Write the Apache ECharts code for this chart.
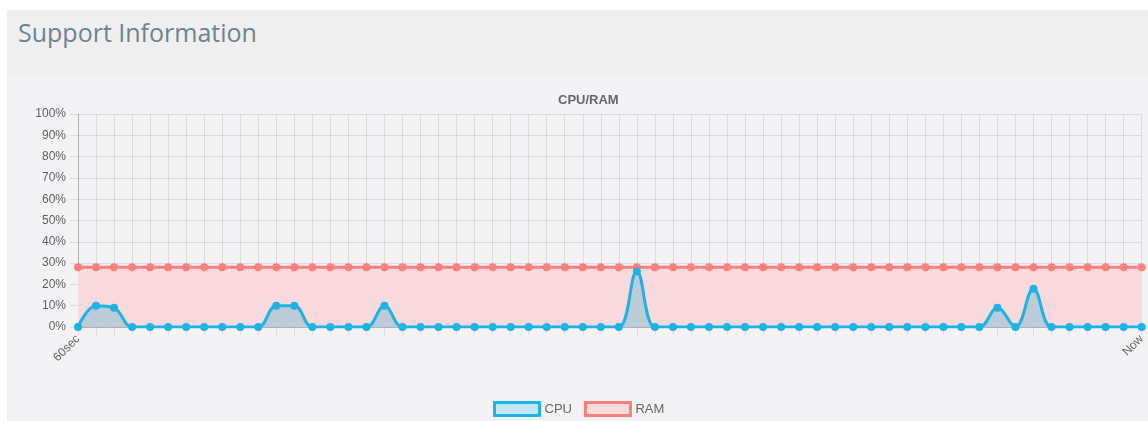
<!DOCTYPE html>
<html>
<head>
<meta charset="utf-8">
<title>Support Information</title>
<script src="https://cdn.jsdelivr.net/npm/echarts@6/dist/echarts.min.js"></script>
<style>
  html, body { margin: 0; padding: 0; background: #fff; }
  .header {
    position: absolute; left: 7px; top: 10px; width: 1141px; height: 65px;
    background: #efefef;
  }
  .header h2 {
    margin: 0; position: absolute; left: 11px; top: 5px;
    font-family: "Open Sans", sans-serif; font-weight: 400; font-size: 25px;
    color: #6d8294;
  }
  #chart {
    position: absolute; left: 7px; top: 75px; width: 1141px; height: 346px;
    background: #f3f3f5;
  }
</style>
</head>
<body>
<div class="header"><h2>Support Information</h2></div>
<div id="chart"></div>
<script>
// x labels: only first and last are shown
var xLabels = [
  "60sec", "", "", "", "", "", "", "", "", "",
  "", "", "", "", "", "", "", "", "", "",
  "", "", "", "", "", "", "", "", "", "",
  "", "", "", "", "", "", "", "", "", "",
  "", "", "", "", "", "", "", "", "", "",
  "", "", "", "", "", "", "", "", "", "Now"
];
var cpuData = [
  0, 10, 9, 0, 0, 0, 0, 0, 0, 0,
  0, 10, 10, 0, 0, 0, 0, 10, 0, 0,
  0, 0, 0, 0, 0, 0, 0, 0, 0, 0,
  0, 26, 0, 0, 0, 0, 0, 0, 0, 0,
  0, 0, 0, 0, 0, 0, 0, 0, 0, 0,
  0, 9, 0, 18, 0, 0, 0, 0, 0, 0
];
var ramData = [
  28, 28, 28, 28, 28, 28, 28, 28, 28, 28,
  28, 28, 28, 28, 28, 28, 28, 28, 28, 28,
  28, 28, 28, 28, 28, 28, 28, 28, 28, 28,
  28, 28, 28, 28, 28, 28, 28, 28, 28, 28,
  28, 28, 28, 28, 28, 28, 28, 28, 28, 28,
  28, 28, 28, 28, 28, 28, 28, 28, 28, 28
];

var gridColor = "rgba(0,0,0,0.09)";
var chart = echarts.init(document.getElementById("chart"));
chart.setOption({
  animation: false,
  textStyle: { fontFamily: "Liberation Sans, Arial, sans-serif" },
  title: {
    text: "CPU/RAM",
    left: 546,
    top: 14,
    textStyle: { fontSize: 13, fontWeight: "bold", color: "#666" }
  },
  legend: {
    left: 481,
    top: 321,
    itemWidth: 45,
    itemHeight: 13,
    itemGap: 12,
    icon: "rect",
    textStyle: { fontSize: 13, color: "#666" },
    data: [
      { name: "CPU", itemStyle: { color: "#c3e6f3", borderColor: "#1cb3e6", borderWidth: 3 } },
      { name: "RAM", itemStyle: { color: "#fbdcdc", borderColor: "#fb7f7b", borderWidth: 3 } }
    ]
  },
  grid: { left: 71, right: 2, top: 39, bottom: 94 },
  xAxis: {
    type: "category",
    data: xLabels,
    boundaryGap: false,
    axisLine: { lineStyle: { color: "rgba(0,0,0,0.2)" } },
    axisTick: { show: true, interval: 0, length: 8, lineStyle: { color: gridColor } },
    splitLine: { show: true, interval: 0, lineStyle: { color: gridColor } },
    axisLabel: { interval: 0, rotate: 45, margin: 10, fontSize: 12, color: "#666" }
  },
  yAxis: {
    type: "value",
    min: 0,
    max: 100,
    interval: 10,
    axisLine: { show: true, lineStyle: { color: "rgba(0,0,0,0.2)" } },
    axisTick: { show: true, length: 8, lineStyle: { color: gridColor } },
    splitLine: { lineStyle: { color: gridColor } },
    axisLabel: { formatter: "{value}%", fontSize: 12, color: "#606060", margin: 12 }
  },
  series: [
    {
      name: "RAM",
      type: "line",
      data: ramData,
      smooth: 0.4,
      symbol: "circle",
      symbolSize: 8,
      lineStyle: { color: "#fb7f7b", width: 3 },
      itemStyle: { color: "#fb7f7b" },
      areaStyle: { color: "#f9dadc", opacity: 1 },
      z: 2
    },
    {
      name: "CPU",
      type: "line",
      data: cpuData,
      smooth: 0.4,
      symbol: "circle",
      symbolSize: 8,
      lineStyle: { color: "#1cb3e6", width: 3 },
      itemStyle: { color: "#1cb3e6" },
      areaStyle: { color: "rgba(45,170,210,0.3)", opacity: 1 },
      z: 3
    }
  ]
});
</script>
</body>
</html>
